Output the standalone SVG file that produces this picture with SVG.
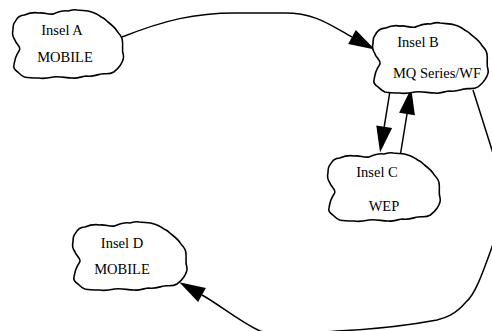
<svg xmlns="http://www.w3.org/2000/svg" width="492" height="331" viewBox="0 0 492 331">
<style>
.cloud{fill:#fff;stroke:#000;stroke-width:1.6;vector-effect:non-scaling-stroke}
.lbl{font-family:"Liberation Serif","Times New Roman",serif;font-size:14.5px;fill:#000;text-anchor:middle}
.edge{fill:none;stroke:#000;stroke-width:1.5;marker-end:url(#ah)}
</style>
<defs>
<path id="cl" d="M3,12 C5,8 9,5 13,5 C18,3 23,2 28,3 C33,2 38,5 43,4 C48,2 53,0 58,1 C62,0 65,-1 68,0 C73,1 78,0 83,2 C87,3 90,5 93,7 C96,8 98,10 100,12 C104,15 108,18 110,22 C113,25 115,27 115,31 C116,36 114,40 116,45 C117,49 115,52 113,55 C111,58 109,60 106,62 C101,65 97,63 93,64 C88,65 83,67 78,66 C73,66 68,69 63,68 C56,68 50,66 43,67 C38,68 33,69 28,68 C23,68 18,68 13,67 C10,66 8,64 6,62 C3,60 1,58 2,55 C3,51 3,48 5,45 C6,42 9,40 8,38 C7,35 4,33 3,30 C1,27 0,23 1,20 C1,17 1,14 3,12 Z"/>
<marker id="ah" markerUnits="userSpaceOnUse" markerWidth="27" markerHeight="17" refX="0" refY="8" orient="auto" overflow="visible">
<path d="M0,0 L26,8 L0,16 Z" fill="#000"/>
</marker>
</defs>
<rect width="492" height="331" fill="#fff"/>
<g id="edges">
<path class="edge" d="M122,37 C165,20 195,13 235,13 L285,13 C315,13 330,25 352,37"/>
<path class="edge" d="M390,91 L384.2,126.8"/>
<path class="edge" d="M400,157 L407,114"/>
<path class="edge" d="M473,90 L492,150 C500,175 505,210 492,247 C483,272 475,295 466,302 C455,315 445,318 437,320 C400,327 360,330 337,331 C300,334 270,334 260,331 C240,322 220,305 202,295"/>
</g>
<g id="nodeA">
<use href="#cl" class="cloud" transform="translate(12,10) scale(0.96,1)"/>
<text class="lbl" x="62" y="35">Insel A</text>
<text class="lbl" x="65" y="62">MOBILE</text>
</g>
<g id="nodeB">
<use href="#cl" class="cloud" transform="translate(372,23) scale(1.0,1.03)"/>
<text class="lbl" x="418" y="47">Insel B</text>
<text class="lbl" x="437" y="78">MQ Series/WF</text>
</g>
<g id="nodeC">
<use href="#cl" class="cloud" transform="translate(327,153) scale(0.975,1)"/>
<text class="lbl" x="377" y="177">Insel C</text>
<text class="lbl" x="384" y="211">WEP</text>
</g>
<g id="nodeD">
<use href="#cl" class="cloud" transform="translate(72,222) scale(0.99,1)"/>
<text class="lbl" x="122" y="248">Insel D</text>
<text class="lbl" x="122" y="274">MOBILE</text>
</g>
</svg>
